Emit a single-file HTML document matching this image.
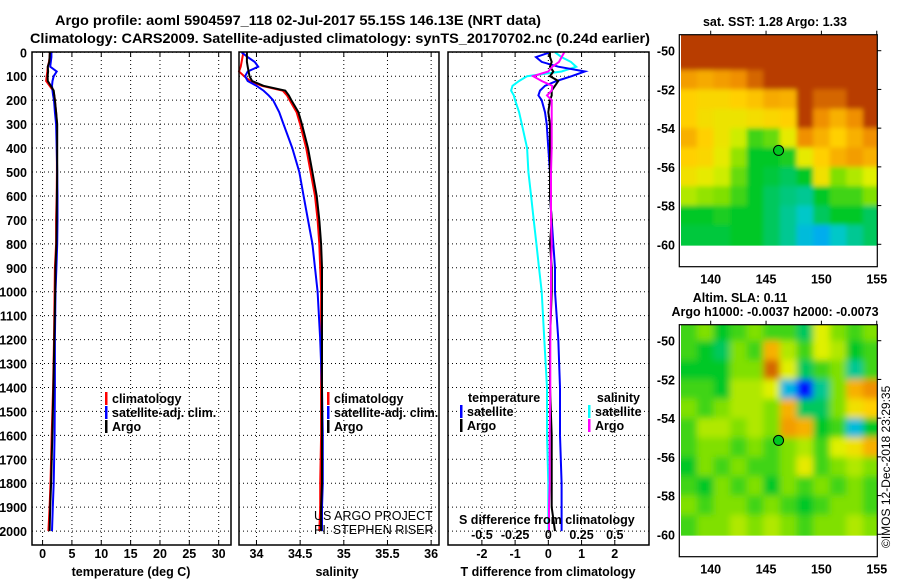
<!DOCTYPE html>
<html><head><meta charset="utf-8">
<style>
html,body{margin:0;padding:0;background:#fff;}
svg{display:block;font-family:"Liberation Sans",Arial,sans-serif;}
.b{font-weight:bold;}
</style></head>
<body>
<svg id="fig" width="900" height="580" viewBox="0 0 900 580" xmlns="http://www.w3.org/2000/svg">
<rect width="900" height="580" fill="#fff"/>
<defs><clipPath id="p2clip"><rect x="239" y="52" width="200" height="493"/></clipPath></defs>
<text class="b" x="298" y="25" font-size="14" text-anchor="middle" textLength="486" lengthAdjust="spacingAndGlyphs">Argo profile: aoml 5904597_118 02-Jul-2017 55.15S 146.13E (NRT data)</text>
<text class="b" x="340" y="43" font-size="14" text-anchor="middle" textLength="620" lengthAdjust="spacingAndGlyphs">Climatology: CARS2009. Satellite-adjusted climatology: synTS_20170702.nc (0.24d earlier)</text>
<g id="g1"></g>
<g id="g2"></g>
<g id="g3"></g>
<g id="m1"></g>
<g id="m2"></g>
<text class="b" x="775" y="26" font-size="12.5" text-anchor="middle">sat. SST: 1.28 Argo: 1.33</text>
<text class="b" x="740" y="302" font-size="12.5" text-anchor="middle">Altim. SLA: 0.11</text>
<text class="b" x="775" y="316" font-size="12.5" text-anchor="middle">Argo h1000: -0.0037 h2000: -0.0073</text>
<text x="890" y="548" font-size="12" transform="rotate(-90 890 548)">©IMOS 12-Dec-2018 23:29:35</text>
</svg>
<script>
// ---- profile data ----
const depths = [0,20,40,60,80,100,120,140,160,180,200,250,300,400,500,600,700,800,900,1000,1200,1400,1600,1800,1900,2000];
const depthTicks = [0,100,200,300,400,500,600,700,800,900,1000,1100,1200,1300,1400,1500,1600,1700,1800,1900,2000];
const tempArgo = [1.25,1.2,1.15,0.9,0.95,0.85,0.9,1.4,1.9,2.0,2.1,2.3,2.5,2.5,2.5,2.45,2.4,2.35,2.2,2.15,2.0,1.85,1.65,1.45,1.3,1.2];
const tempClim = [1.25,1.2,1.1,0.9,0.8,0.7,0.6,1.2,1.8,2.0,2.1,2.3,2.45,2.45,2.45,2.4,2.3,2.3,2.1,2.05,1.95,1.8,1.55,1.35,1.2,1.0];
const tempSat = [1.5,1.5,1.4,1.3,2.4,1.9,1.7,1.6,1.7,1.8,1.95,2.1,2.3,2.4,2.5,2.55,2.55,2.5,2.35,2.2,2.1,2.1,2.05,1.9,1.75,1.6];
const salArgo = [33.89,33.89,33.89,33.9,33.91,33.92,33.95,34.08,34.33,34.37,34.40,34.48,34.52,34.59,34.64,34.69,34.72,34.74,34.75,34.75,34.75,34.75,34.75,34.75,34.74,34.74];
const salClim = [33.85,33.84,33.83,33.82,33.80,33.86,33.93,34.06,34.3,34.35,34.38,34.46,34.5,34.57,34.62,34.67,34.70,34.72,34.73,34.74,34.74,34.74,34.74,34.73,34.73,34.72];
const salSat = [33.83,33.9,33.98,34.02,33.9,33.87,33.9,34.0,34.08,34.14,34.19,34.26,34.31,34.41,34.49,34.54,34.59,34.64,34.67,34.70,34.73,34.75,34.76,34.76,34.75,34.75];
const dTArgo = [0.05,0.05,0.1,0.05,0.15,0.05,0.3,0.2,0.1,0.1,0.05,0,0.05,0.05,0.05,0.05,0.1,0.05,0.1,0.1,0.05,0.05,0.1,0.1,0.1,0.2];
const dTSat = [0.05,-0.37,-0.2,0.3,1.1,0.7,0.25,-0.1,-0.25,-0.3,-0.2,-0.1,-0.05,0,0.05,0.05,0.1,0.15,0.2,0.2,0.3,0.35,0.35,0.4,0.4,0.4];
const dSSat = [0.05,0.1,0.17,0.21,0.1,-0.16,-0.22,-0.27,-0.28,-0.26,-0.25,-0.22,-0.2,-0.16,-0.15,-0.13,-0.11,-0.09,-0.07,-0.05,-0.03,-0.01,-0.01,0,0,0];
const dSArgo = [0.12,0.1,0.08,0.03,0.0,-0.115,-0.05,0.03,0.025,-0.01,0.025,0.025,0.025,0.025,0.02,0.02,0.02,0.025,0.02,0.02,0.015,0.015,0.01,0.01,0.005,0.005];
const tempTicks = [0,5,10,15,20,25,30];
const salTicks = [34,34.5,35,35.5,36];
const salTickLabels = ["34","34.5","35","35.5","36"];
const dTTicks = [-2,-1,0,1,2];
const dSTicks = [-0.5,-0.25,0,0.25,0.5];
const dSTickLabels = ["-0.5","-0.25","0","0.25","0.5"];
// ---- map data (rows lat -49.5 .. -59.5, cols lon 138 .. 154.5 step 1.5), normalised 0..1 ----
const mapLons = [138,139.5,141,142.5,144,145.5,147,148.5,150,151.5,153,154.5];
const mapLats = [-49.5,-50.5,-51.5,-52.5,-53.5,-54.5,-55.5,-56.5,-57.5,-58.5,-59.5];
const sstGrid = [
[1,1,1,1,1,1,1,1,1,1,1,1],
[1,1,1,1,1,1,1,1,1,1,1,1],
[0.88,0.86,0.88,0.9,0.95,1,1,1,1,1,1,1],
[0.8,0.78,0.78,0.8,0.82,0.86,0.85,1,0.95,0.95,1,1],
[0.8,0.76,0.74,0.74,0.76,0.78,0.8,1,0.9,0.85,0.9,1],
[0.85,0.8,0.74,0.68,0.55,0.58,0.72,0.9,0.85,0.8,0.85,0.9],
[0.8,0.78,0.72,0.62,0.5,0.5,0.52,0.72,0.8,0.85,0.88,0.85],
[0.75,0.72,0.68,0.58,0.5,0.48,0.45,0.5,0.75,0.6,0.65,0.7],
[0.65,0.62,0.6,0.55,0.5,0.45,0.42,0.4,0.5,0.55,0.55,0.6],
[0.5,0.5,0.52,0.5,0.5,0.45,0.4,0.35,0.45,0.5,0.5,0.45],
[0.48,0.48,0.48,0.5,0.5,0.45,0.4,0.3,0.25,0.35,0.4,0.45]];
const slaGrid = [
[0.55,0.6,0.5,0.55,0.6,0.55,0.55,0.45,0.7,0.6,0.55,0.6],
[0.55,0.5,0.45,0.6,0.55,0.85,0.65,0.55,0.7,0.65,0.5,0.55],
[0.5,0.5,0.5,0.6,0.6,0.95,0.7,0.45,0.55,0.6,0.4,0.55],
[0.55,0.55,0.5,0.65,0.65,0.7,0.28,0.02,0.4,0.6,0.85,0.9],
[0.6,0.55,0.6,0.65,0.65,0.6,0.85,0.45,0.45,0.6,0.75,0.8],
[0.55,0.65,0.65,0.6,0.65,0.6,0.88,0.85,0.5,0.55,0.3,0.5],
[0.55,0.6,0.6,0.55,0.6,0.55,0.6,0.65,0.55,0.7,0.75,0.85],
[0.5,0.6,0.55,0.6,0.55,0.55,0.6,0.72,0.55,0.6,0.65,0.6],
[0.55,0.5,0.6,0.55,0.6,0.5,0.6,0.55,0.6,0.55,0.6,0.55],
[0.6,0.55,0.6,0.6,0.55,0.6,0.55,0.5,0.55,0.6,0.6,0.55],
[0.55,0.6,0.6,0.65,0.6,0.65,0.6,0.55,0.6,0.6,0.65,0.6]];
const latTicks = [-50,-52,-54,-56,-58,-60];
const lonTicks = [140,145,150,155];
const argoLon = 146.13, argoLat = -55.15;

const NS = "http://www.w3.org/2000/svg";
function mk(parent, tag, attrs, text){
  const e = document.createElementNS(NS, tag);
  for (const k in attrs) e.setAttribute(k, attrs[k]);
  if (text !== undefined) e.textContent = text;
  parent.appendChild(e);
  return e;
}
const TOP = 52, BOT = 545;
function yD(d){ return 52.3 + d*0.2394; }

function panel(g, x0, x1, xmin, xmax, showDepth){
  const sx = v => x0 + (v - xmin)/(xmax - xmin)*(x1 - x0);
  depthTicks.forEach(d=>{
    const l = mk(g,'line',{x1:x0,x2:x1,y1:yD(d),y2:yD(d),stroke:'#000','stroke-width':1,'stroke-dasharray':'1,3'});
    
    
    if (showDepth){
      const t = mk(g,'text',{x:27,y:yD(d)+5,'font-size':12.5,'text-anchor':'end','class':'b'}, String(d));
      
      
    }
  });
  return sx;
}
function vgrid(g, sx, ticks, labels){
  ticks.forEach((v,i)=>{
    const x = sx(v);
    const l = mk(g,'line',{x1:x,x2:x,y1:TOP,y2:BOT,stroke:'#000','stroke-width':1,'stroke-dasharray':'1,3'});
    
    
    mk(g,'line',{x1:x,x2:x,y1:BOT,y2:BOT-5,stroke:'#000'});
    mk(g,'line',{x1:x,x2:x,y1:TOP,y2:TOP+5,stroke:'#000'});
    const t = mk(g,'text',{x:x,y:558,'font-size':12.5,'text-anchor':'middle','class':'b'}, labels ? labels[i] : String(v));
    
    
  });
}
function frame(g,x0,x1){
  const r = mk(g,'rect',{x:x0,y:TOP,width:x1-x0,height:BOT-TOP,fill:'none',stroke:'#000','stroke-width':1.5});
  
  
}
function curve(g, sx, vals, color, name, w){
  let d = '';
  vals.forEach((v,i)=>{ d += (i?'L':'M') + sx(v).toFixed(1) + ',' + yD(depths[i]).toFixed(1); });
  const p = mk(g,'path',{d:d,fill:'none',stroke:color,'stroke-width':w||2,'stroke-linejoin':'miter'});
  
  
}
function legendItem(g, x, y, color, label, name){
  mk(g,'rect',{x:x,y:y-11,width:2.5,height:13,fill:color});
  const t = mk(g,'text',{x:x+7,y:y,'font-size':12.5,'class':'b'}, label);
  
  
}

// Panel 1
const g1 = document.getElementById('g1');
const sx1 = panel(g1, 32, 231, -1.8, 32.1, true);
vgrid(g1, sx1, tempTicks);
curve(g1, sx1, tempClim, '#ff0000', 'temperature-climatology-line');
curve(g1, sx1, tempSat, '#0000ff', 'temperature-satellite-line');
curve(g1, sx1, tempArgo, '#000000', 'temperature-argo-line');
frame(g1, 32, 231);
legendItem(g1,105,403,'#ff0000','climatology','legend-climatology');
legendItem(g1,105,417,'#0000ff','satellite-adj. clim.','legend-satellite-adj');
legendItem(g1,105,431,'#000000','Argo','legend-argo');
mk(g1,'text',{x:131,y:576,'font-size':12.5,'text-anchor':'middle','class':'b',},'temperature (deg C)');

// Panel 2
const g2 = document.getElementById('g2');
const sx2 = panel(g2, 239, 439, 33.80, 36.09, false);
vgrid(g2, sx2, salTicks, salTickLabels);
curve(g2, sx2, salClim, '#ff0000', 'salinity-climatology-line');
curve(g2, sx2, salSat, '#0000ff', 'salinity-satellite-line');
curve(g2, sx2, salArgo, '#000000', 'salinity-argo-line');
legendItem(g2,327,403,'#ff0000','climatology','legend-climatology');
legendItem(g2,327,417,'#0000ff','satellite-adj. clim.','legend-satellite-adj');
legendItem(g2,327,431,'#000000','Argo','legend-argo');
const cg = mk(g2,'g',{'clip-path':'url(#p2clip)'});
mk(cg,'text',{x:314,y:520,'font-size':12.5,},'US ARGO PROJECT');
mk(cg,'text',{x:314,y:534,'font-size':12.5,},'PI: STEPHEN RISER');
frame(g2, 239, 439);
mk(g2,'text',{x:337,y:576,'font-size':12.5,'text-anchor':'middle','class':'b',},'salinity');

// Panel 3
const g3 = document.getElementById('g3');
const sx3 = panel(g3, 448, 649, -3.02, 3.03, false);
const sxS = v => sx3(v*4);
vgrid(g3, sx3, dTTicks);
curve(g3, sxS, dSSat, '#00ffff', 'salinity-satellite-diff-line');
curve(g3, sx3, dTSat, '#0000ff', 'temperature-satellite-diff-line');
curve(g3, sx3, dTArgo, '#000000', 'temperature-argo-diff-line');
curve(g3, sxS, dSArgo, '#ff00ff', 'salinity-argo-diff-line');
frame(g3, 448, 649);
mk(g3,'text',{x:468,y:402,'font-size':12.5,'class':'b',},'temperature');
mk(g3,'text',{x:640,y:402,'font-size':12.5,'class':'b','text-anchor':'end',},'salinity');
legendItem(g3,460,416,'#0000ff','satellite','legend-t-satellite');
legendItem(g3,460,430,'#000000','Argo','legend-t-argo');
legendItem(g3,588,416,'#00ffff','satellite','legend-s-satellite');
legendItem(g3,588,430,'#ff00ff','Argo','legend-s-argo');
mk(g3,'text',{x:459,y:524,'font-size':12.5,'class':'b',},'S difference from climatology');
dSTicks.forEach((v,i)=>{
  const t = mk(g3,'text',{x:sxS(v),y:539,'font-size':12.5,'text-anchor':'middle','class':'b'}, dSTickLabels[i]);
  
  
});
mk(g3,'text',{x:548,y:576,'font-size':12.5,'text-anchor':'middle','class':'b',},'T difference from climatology');

// Maps
const cstops = [[0,[0,0,255]],[0.2,[0,160,255]],[0.35,[0,200,200]],[0.5,[0,200,40]],[0.6,[128,224,0]],[0.7,[224,240,0]],[0.8,[255,208,0]],[0.9,[240,144,0]],[1,[184,60,0]]];
function cmap(t){
  for (let i=1;i<cstops.length;i++){
    if (t <= cstops[i][0]){
      const a=cstops[i-1], b=cstops[i], f=(t-a[0])/(b[0]-a[0]);
      const c=a[1].map((v,k)=>Math.round(v+(b[1][k]-v)*f));
      return 'rgb('+c.join(',')+')';
    }
  }
  return 'rgb(184,60,0)';
}
function drawMap(g, top, grid, blur, id){
  const L=679.3, R=877.3, Bt=top+232;
  const mx = lon => 710.7 + (lon-140)*11.07;
  const my = lat => top + 16 + (-50-lat)*19.36;
  const defs = mk(g,'defs',{});
  const f = mk(defs,'filter',{id:id,x:'-5%',y:'-5%',width:'110%',height:'110%'});
  mk(f,'feGaussianBlur',{stdDeviation:blur});
  const cp = mk(defs,'clipPath',{id:id+'c'});
  mk(cp,'rect',{x:681,y:top,width:R-681,height:my(-60.07)-top});
  const wrap = mk(g,'g',{'clip-path':'url(#'+id+'c)'});
  const cells = mk(wrap,'g',{filter:'url(#'+id+')'});
  grid.forEach((row,r)=>row.forEach((v,c)=>{
    const x0 = c===0 ? 671 : mx(mapLons[c]-0.75);
    const x1 = c===mapLons.length-1 ? R+10 : mx(mapLons[c]+0.75);
    const y0 = r===0 ? top-10 : my(mapLats[r]+0.5);
    const y1 = r===mapLats.length-1 ? my(-60.07)+10 : my(mapLats[r]-0.5);
    const rc = mk(cells,'rect',{x:x0.toFixed(1),y:y0.toFixed(1),width:(x1-x0+0.5).toFixed(1),height:(y1-y0+0.5).toFixed(1),fill:cmap(v)});
    
    
  }));
  const fr = mk(g,'rect',{x:L,y:top,width:R-L,height:Bt-top,fill:'none',stroke:'#000','stroke-width':1.2});
  
  
  latTicks.forEach(lat=>{
    const y = my(lat);
    mk(g,'line',{x1:R,x2:R+4,y1:y,y2:y,stroke:'#000'});
    const t = mk(g,'text',{x:675,y:y+5,'font-size':12.5,'text-anchor':'end','class':'b'}, String(lat));
    
    
  });
  lonTicks.forEach(lon=>{
    const x = mx(lon);
    mk(g,'line',{x1:x,x2:x,y1:top,y2:top-4,stroke:'#000'});
    const t = mk(g,'text',{x:x,y:Bt+17,'font-size':12.5,'text-anchor':'middle','class':'b'}, String(lon));
    
    
  });
  const pt = mk(g,'circle',{cx:mx(argoLon),cy:my(argoLat),r:5,fill:'#00c820',stroke:'#000','stroke-width':1});
  
  
}
drawMap(document.getElementById('m1'), 34.7, sstGrid, 2.5, 'f1');
drawMap(document.getElementById('m2'), 324.7, slaGrid, 3.5, 'f2');
</script>
</body></html>
